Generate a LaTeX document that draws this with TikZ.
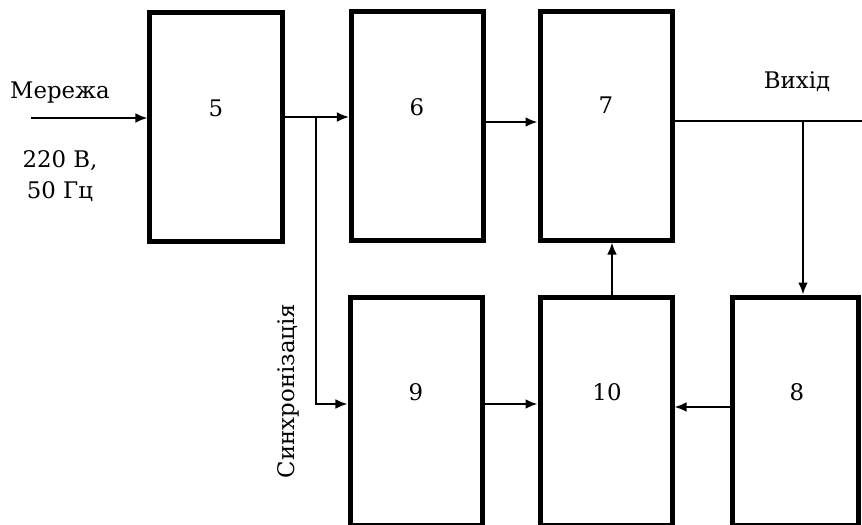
\documentclass[tikz,border=0pt]{standalone}
\usepackage{fontspec}
\setmainfont{DejaVu Serif}
\newfontfamily\diagfont{DejaVu Serif}
\usetikzlibrary{arrows.meta,calc}
\tikzset{
 blk/.style={draw,line width=0.15cm,minimum width=3.96cm,minimum height=6.84cm,inner sep=0pt},
 lbl/.style={font=\diagfont\fontsize{19.5}{27}\selectfont,inner sep=0pt},
 conn/.style={line width=0.08cm},
 arr/.style={conn,-{Latex[length=0.36cm,width=0.3cm]}}
}
\begin{document}
\begin{tikzpicture}[x=0.03cm,y=-0.03cm]
\useasboundingbox (0,0) rectangle (862,524);
\clip (0,0) rectangle (862,524);
\node[blk] (b5) at (216,127) {};
\node[blk] (b6) at (417.5,126) {};
\node[blk] (b7) at (606,126) {};
\node[blk] (b9) at (416,411) {};
\node[blk] (b10) at (606,411) {};
\node[blk,minimum width=3.78cm] (b8) at (795,411) {};
\node[lbl] (t5) at (216,108) {5};
\node[lbl] (t6) at (417,107) {6};
\node[lbl] (t7) at (606,105) {7};
\node[lbl] (t9) at (416,392) {9};
\node[lbl] (t10) at (607,392) {10};
\node[lbl] (t8) at (797,392) {8};
\node[lbl] (net) at (60,93) {Мережа};
\node[lbl,align=center] (volt) at (60,176) {220 В,\\50 Гц};
\node[lbl] (outl) at (797,82) {Вихід};
\node[lbl,rotate=90] (sync) at (288,391) {Синхронізація};
\coordinate (in) at (31,118);
\draw[arr] (in) -- (in -| b5.west);
\coordinate (j1) at (316,117);
\draw[arr] (b5.east |- j1) -- (b6.west |- j1);
\coordinate (j2) at (316,404);
\draw[arr] (j1) -- (j2) -- (b9.west |- j2);
\coordinate (a67) at (0,122);
\draw[arr] (b6.east |- a67) -- (b7.west |- a67);
\coordinate (o) at (862,121);
\draw[conn] (b7.east |- o) -- (o);
\coordinate (j3) at (803,121);
\draw[arr] (j3) -- (j3 |- b8.north);
\coordinate (v) at (612,0);
\draw[arr] (v |- b10.north) -- (v |- b7.south);
\coordinate (h1) at (0,404);
\draw[arr] (b9.east |- h1) -- (b10.west |- h1);
\coordinate (h2) at (0,407);
\draw[arr] (b8.west |- h2) -- (b10.east |- h2);
\end{tikzpicture}
\end{document}
